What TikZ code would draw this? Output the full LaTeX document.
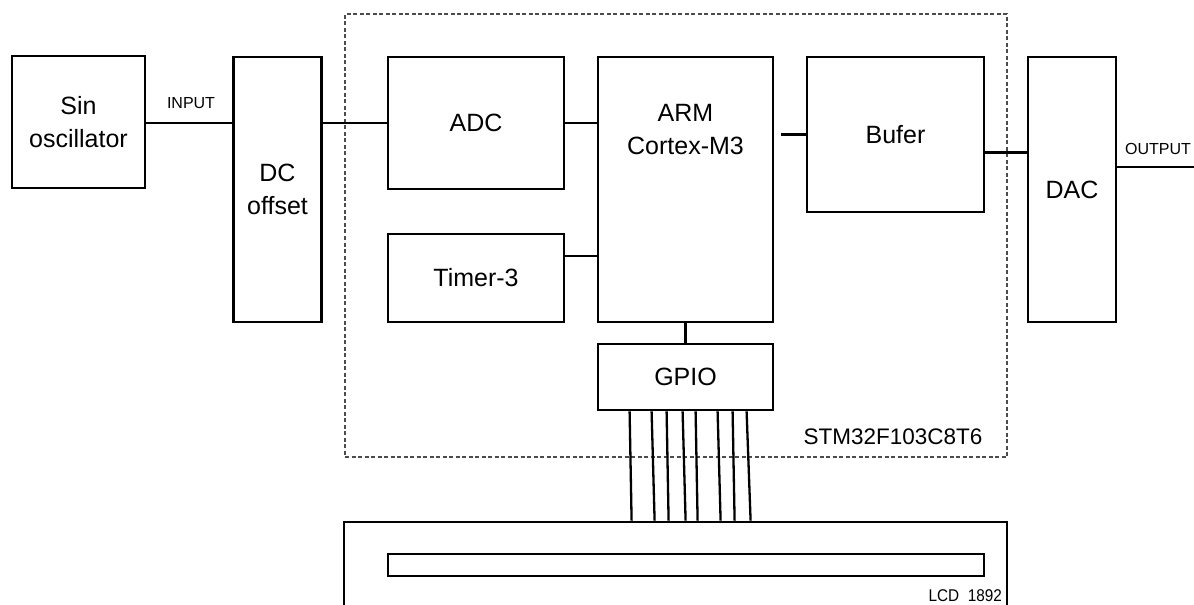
\documentclass[tikz,border=0pt]{standalone}
\usepackage{fontspec}
\setmainfont{Liberation Sans}
\newfontfamily\condfont[FakeStretch=0.9]{Liberation Sans}
\usetikzlibrary{calc}
\tikzset{
  blk/.style={draw=black, line width=2.8pt, inner sep=0pt, align=center,
    font=\fontsize{25}{32.5}\selectfont},
  wire/.style={draw=black, line width=2.8pt},
  pin/.style={draw=black, line width=2.3pt},
  small/.style={font=\fontsize{16}{16}\selectfont, inner sep=0pt},
  chip/.style={draw=black!70, line width=1.8pt, dash pattern=on 4pt off 2.5pt}
}
\begin{document}
\begin{tikzpicture}[x=1pt,y=-1pt]
\useasboundingbox (0,0) rectangle (1194,605);
% STM32 frame
\node[chip, minimum width=662pt, minimum height=443pt] (mcu) at (676,235.5) {};
\node[font=\fontsize{22.5}{22.5}\selectfont, inner sep=0pt] (mculbl) at (893,436.5) {STM32F103C8T6};
% blocks
\node[blk, minimum width=133pt, minimum height=132pt] (sin) at (78.5,122) {Sin\\oscillator};
\node[blk, minimum width=88pt, minimum height=265pt] (dc) at (277.5,189.5) {DC\\offset};
\node[blk, minimum width=176pt, minimum height=132pt] (adc) at (476,123) {ADC};
\node[blk, minimum width=176pt, minimum height=88pt] (tim) at (476,278) {Timer-3};
\node[blk, minimum width=175pt, minimum height=265pt,
  label={[anchor=north, yshift=-48pt, align=center, font=\fontsize{25}{33}\selectfont, inner sep=0pt]north:ARM\\Cortex-M3}] (arm) at (685.5,189.5) {};
\node[blk, minimum width=175pt, minimum height=66pt] (gpio) at (685.5,377) {GPIO};
\node[blk, minimum width=177pt, minimum height=155pt] (buf) at (895.5,134.5) {Bufer};
\node[blk, minimum width=88pt, minimum height=265pt] (dac) at (1072,189.5) {DAC};
% LCD
\node[blk, minimum width=663pt, minimum height=118pt] (lcd) at (675.5,581) {};
\node[draw=black, line width=2.8pt, inner sep=0pt, minimum width=596pt, minimum height=22pt] (scr) at (686,565) {};
\node[font=\condfont\fontsize{17}{17}\selectfont, inner sep=0pt, anchor=east] (lcdlbl) at (1002,596) {LCD\ \ 1892};
% connectors
\draw[wire] ([yshift=-1pt]sin.east) -- ([yshift=-1pt]sin.east -| dc.west);
\node[small] (inlbl) at (191,103) {INPUT};
\draw[wire] (adc.west -| dc.east) -- (adc.west);
\draw[wire] (adc.east) -- (adc.east -| arm.west);
\draw[wire] ([yshift=22pt]tim.east) -- ([yshift=22pt]tim.east -| arm.west);
\draw[wire, shorten >=7pt] (buf.west) -- (buf.west -| arm.east);
\draw[wire] ([yshift=-18pt]buf.east) -- ([yshift=-18pt]buf.east -| dac.west);
\coordinate (outend) at (1194,167);
\draw[wire] (outend -| dac.east) -- (outend);
\node[small, anchor=west] (outlbl) at (1125,149) {OUTPUT};
\draw[wire] (arm.south) -- (gpio.north);
% GPIO to LCD pins
\foreach \a/\b in {33/289, 55/312, 70/326, 86/343, 99/355, 121/378, 136/392, 150/408}{
  \draw[pin] ([xshift=\a pt]gpio.south west) -- ([xshift=\b pt]lcd.north west);
}
\end{tikzpicture}
\end{document}
